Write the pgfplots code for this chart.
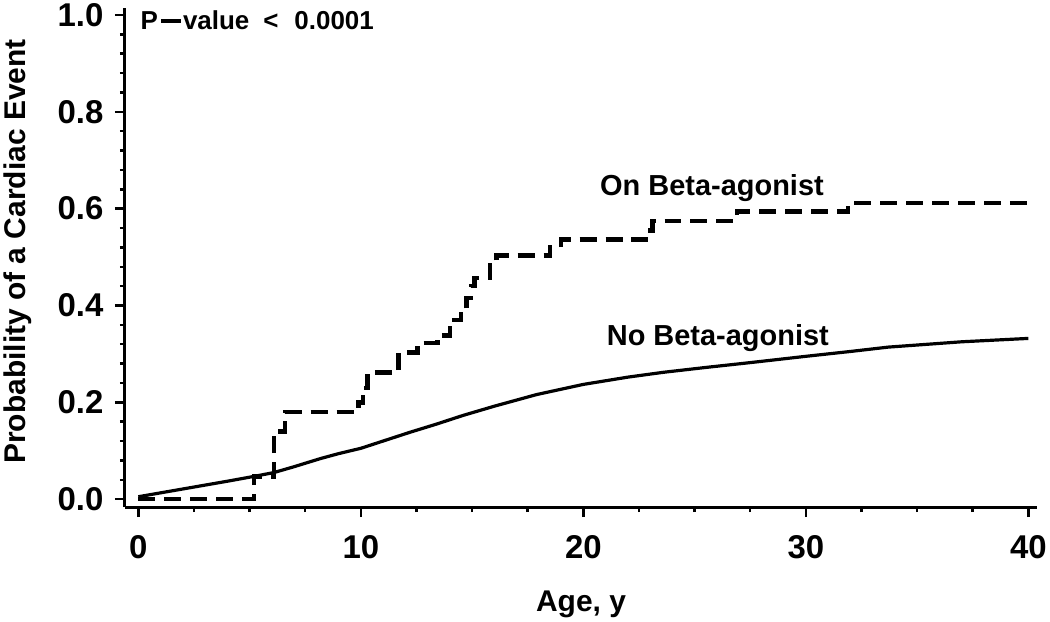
\documentclass[border=0pt]{standalone}
\usepackage{fontspec}
\setmainfont{Liberation Sans}
\usepackage{pgfplots}
\pgfplotsset{compat=1.18}

\begin{document}
\begin{tikzpicture}
\begin{axis}[
  scale only axis,
  width=914pt, height=500pt,
  xmin=-0.605, xmax=40.4,
  ymin=-0.0165, ymax=1.0144,
  axis x line*=bottom, axis y line*=left,
  axis line style={line width=3pt},
  xtick={0,10,20,30,40},
  ytick={0,0.2,0.4,0.6,0.8,1.0},
  minor x tick num=3, minor y tick num=4,
  tick align=outside,
  major tick length=10pt, minor tick length=5pt,
  tick style={line width=2.5pt, black},
  /pgf/number format/assume math mode=true,
  yticklabel style={/pgf/number format/fixed, /pgf/number format/fixed zerofill,
    /pgf/number format/precision=1, xshift=-8pt},
  xticklabel style={yshift=-15pt},
  ticklabel style={font=\fontsize{33}{36}\selectfont\bfseries},
  label style={font=\fontsize{30}{34}\selectfont\bfseries},
  xlabel={Age, y},
  ylabel={Probability of a Cardiac Event},
  xlabel style={at={(axis description cs:0.5,0)}, anchor=base, yshift=-105pt},
  ylabel style={at={([xshift=-100pt,yshift=6pt]axis description cs:0,0.5)}, anchor=base},
  clip=false,
]
% No Beta-agonist
\addplot[black, line width=3.2pt] coordinates {
  (0,0.005) (1,0.013) (2,0.021) (3,0.029) (4,0.037) (5.2,0.047) (6.1,0.055)
  (7,0.067) (8.2,0.084) (9,0.094) (10,0.105) (11,0.12) (12.2,0.138) (13.4,0.155)
  (14.6,0.173) (16,0.192) (17.9,0.216) (20,0.237) (22,0.252) (23.6,0.262)
  (25.5,0.272) (27.5,0.282) (30,0.295) (32,0.305) (33.7,0.314) (37,0.325) (40,0.332)
};
% On Beta-agonist
\addplot[black, line width=4.5pt, const plot, dash pattern=on 17pt off 9pt] coordinates {
  (0,0) (5.2,0.047) (6.1,0.14) (6.6,0.18) (9.9,0.20) (10.1,0.23) (10.3,0.262)
  (11.7,0.303) (12.55,0.322) (13.45,0.338) (14.0,0.352) (14.2,0.37) (14.5,0.392)
  (14.75,0.415) (14.95,0.44) (15.1,0.457) (15.8,0.489) (16.1,0.503) (18.5,0.52)
  (19.0,0.536) (22.8,0.555) (23.1,0.575) (26.9,0.594) (31.9,0.612) (40,0.612)
};
\node[anchor=base west, font=\fontsize{29}{32}\selectfont\bfseries] at (axis cs:20.6,0.627) {On Beta-agonist};
\node[anchor=base west, font=\fontsize{29}{32}\selectfont\bfseries] at (axis cs:20.9,0.318) {No Beta-agonist};
\node[anchor=base west, inner sep=0pt, font=\fontsize{26}{30}\selectfont\bfseries] at (axis cs:0.1,0.971)
  {P\hspace{3pt}\rule[6pt]{20pt}{4.5pt}\hspace{2pt}value\hspace{14pt}<\hspace{16pt}0.0001};
\end{axis}
\end{tikzpicture}
\end{document}
